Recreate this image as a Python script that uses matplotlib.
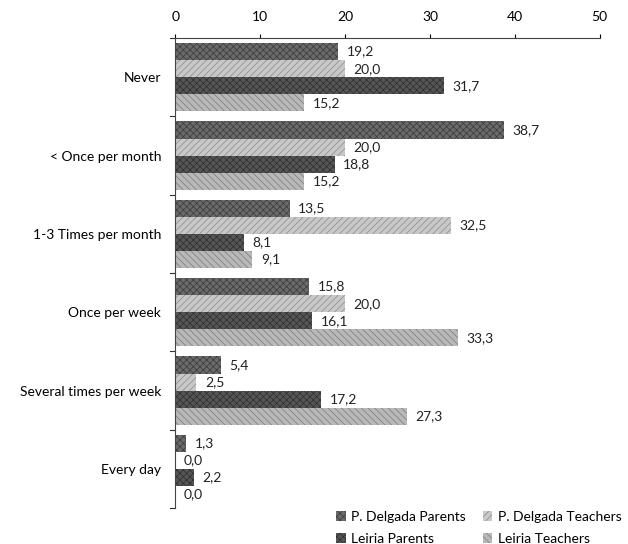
import numpy as np
import matplotlib.pyplot as plt

categorie = ["Never", "< Once per month", "1-3 Times per month", "Once per week",
             "Several times per week", "Every day"]
serie = ["P. Delgada Parents", "P. Delgada Teachers", "Leiria Parents", "Leiria Teachers"]

pd_parents = [19.2, 38.7, 13.5, 15.8, 5.4, 1.3]
pd_teachers = [20.0, 20.0, 32.5, 20.0, 2.5, 0.0]
leiria_parents = [31.7, 18.8, 8.1, 16.1, 17.2, 2.2]
leiria_teachers = [15.2, 15.2, 9.1, 33.3, 27.3, 0.0]

valori = [pd_parents, pd_teachers, leiria_parents, leiria_teachers]
colori = ["#6a6a6a", "#c8c8c8", "#555555", "#b8b8b8"]
tratteggi = ["xxxxx", "/////", "xxxxx", "\\\\\\\\\\"]
colori_tratteggio = ["#3a3a3a", "#8a8a8a", "#2e2e2e", "#7a7a7a"]

plt.rcParams['font.family'] = ['Lato', 'DejaVu Sans']
plt.rcParams['hatch.linewidth'] = 0.5

fig = plt.figure(figsize=(6.28, 5.44), dpi=100)
ax = fig.add_axes([0.279, 0.066, 0.676, 0.864])

n = len(categorie)
altezza = 0.218
y_centro = np.arange(n)

barre = []
for i, (nome, vals) in enumerate(zip(serie, valori)):
    y = y_centro + (i - 1.5) * altezza
    b = ax.barh(y, vals, height=altezza, color=colori[i], edgecolor=colori_tratteggio[i],
                hatch=tratteggi[i], linewidth=0, label=nome)
    barre.append(b)
    for yy, v in zip(y, vals):
        ax.text(v + 1.0, yy, f"{v:.1f}".replace(".", ","), va="center", ha="left",
                fontsize=10, color="#222222")

ax.set_ylim(n - 0.5, -0.5)
ax.set_xlim(0, 50)
ax.set_yticks(y_centro)
ax.set_yticklabels(categorie, fontsize=10)
ax.set_xticks(np.arange(0, 51, 10))
ax.xaxis.tick_top()
ax.tick_params(axis="x", labelsize=10, length=3, pad=8)
ax.tick_params(axis="y", length=0, pad=10)

# piccole tacche sull'asse verticale tra i gruppi
for b in np.arange(-0.5, n, 1.0):
    ax.plot([-0.6, 0], [b, b], color="#333333", lw=0.8, clip_on=False)

for lato in ["right", "bottom"]:
    ax.spines[lato].set_visible(False)
ax.spines["top"].set_linestyle((0, (4, 1)))
ax.spines["top"].set_color("#444444")
ax.spines["left"].set_color("#444444")

# legenda a righe: la colonna di sinistra contiene i genitori
ordine = [0, 2, 1, 3]
fig.legend([barre[k] for k in ordine], [serie[k] for k in ordine],
           loc="lower right", bbox_to_anchor=(1.01, -0.025), ncol=2, frameon=False,
           fontsize=10, handlelength=0.7, handleheight=0.7, handletextpad=0.4,
           columnspacing=1.2, labelspacing=0.75)

fig.savefig("out.png", dpi=100)
